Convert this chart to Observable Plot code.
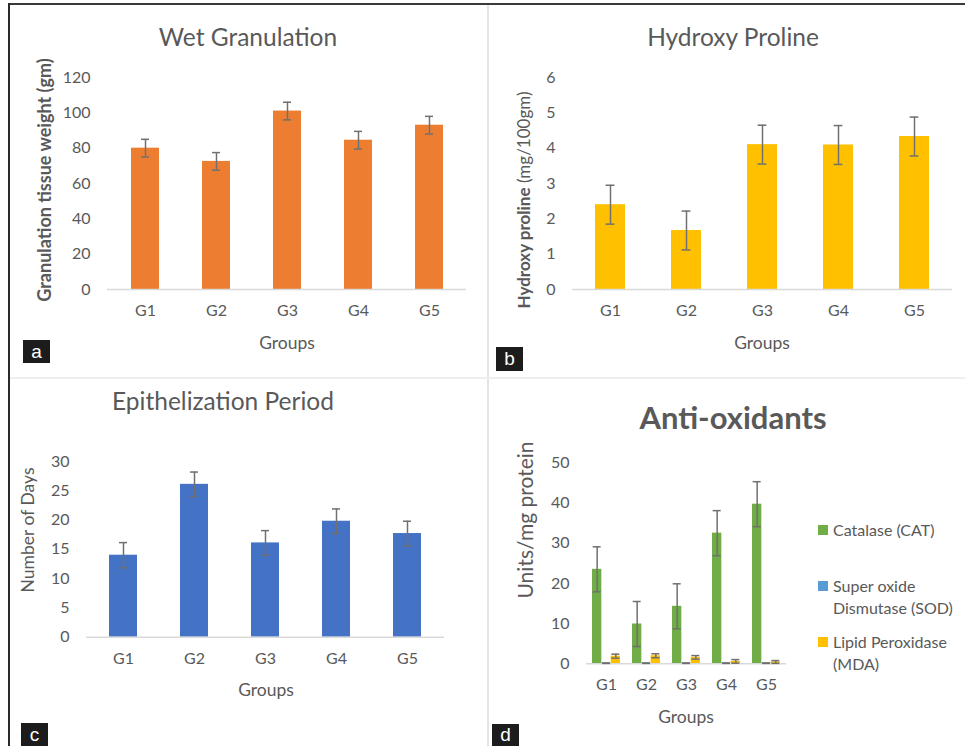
<!DOCTYPE html>
<html>
<head>
<meta charset="utf-8">
<script src="https://cdn.jsdelivr.net/npm/d3@7"></script>
<script src="https://cdn.jsdelivr.net/npm/@observablehq/plot@0.6"></script>
<style>
  html, body { margin: 0; padding: 0; background: #fff; }
  #page { position: relative; width: 965px; height: 746px; overflow: hidden; background: #fff; font-family: Lato, "Open Sans", sans-serif; color: #595959; }
  .abs { position: absolute; }
  .title { position: absolute; transform: translate(-50%, -50%); white-space: nowrap; font-size: 24.5px; color: #595959; }
  .ylab { position: absolute; transform: translate(-50%, -50%) rotate(-90deg); white-space: nowrap; color: #595959; }
  .xlab { position: absolute; transform: translate(-50%, -50%); white-space: nowrap; font-size: 17.5px; color: #595959; }
  .tag { position: absolute; background: #1c1c1c; color: #fff; font-family: "Liberation Sans", Arial, sans-serif; font-size: 19px; text-align: center; }
  .leg { position: absolute; font-size: 16px; line-height: 22px; color: #595959; }
  .sw { position: absolute; width: 10px; height: 10px; }
</style>
</head>
<body>
<div id="page"></div>
<script>
// ---------------- data ----------------
const groups = ["G1", "G2", "G3", "G4", "G5"];

const wetMean = [80, 72.5, 101, 84.5, 93];
const wetErr  = [5, 5, 5, 5, 5];
const wetTicks = [0, 20, 40, 60, 80, 100, 120];

const hypMean = [2.4, 1.67, 4.1, 4.09, 4.33];
const hypErr  = [0.55, 0.55, 0.55, 0.55, 0.55];
const hypTicks = [0, 1, 2, 3, 4, 5, 6];

const epiMean = [14, 26.1, 16.1, 19.8, 17.7];
const epiErr  = [2.15, 2.1, 2.1, 2.1, 2.1];
const epiTicks = [0, 5, 10, 15, 20, 25, 30];

const catMean = [23.5, 9.9, 14.3, 32.5, 39.7];
const catErr  = [5.6, 5.6, 5.6, 5.6, 5.6];
const sodMean = [0.15, 0.15, 0.15, 0.15, 0.15];
const sodErr  = [0.05, 0.05, 0.05, 0.05, 0.05];
const mdaMean = [1.9, 2.0, 1.6, 0.6, 0.45];
const mdaErr  = [0.5, 0.5, 0.45, 0.45, 0.35];
const aoTicks = [0, 10, 20, 30, 40, 50];

const seriesNames = ["Catalase (CAT)", "Super oxide Dismutase (SOD)", "Lipid Peroxidase (MDA)"];
const seriesColors = ["#70AD47", "#5B9BD5", "#FFC000"];

// ---------------- helpers ----------------
const page = document.getElementById("page");
function addDiv(cls, css, html) {
  const d = document.createElement("div");
  d.className = cls;
  Object.assign(d.style, css);
  d.innerHTML = html || "";
  page.appendChild(d);
  return d;
}
const baseStyle = { fontFamily: "Lato, 'Open Sans', sans-serif", fontSize: "16px", color: "#595959", background: "transparent", overflow: "visible" };
const fmt = d3.format("d");

function simplePanel({ left, top, width, height, mL, mR, mT, mB, means, errs, ticks, color, pad, capInset }) {
  const data = groups.map((g, i) => ({ g, v: means[i], e: errs[i] }));
  const svg = Plot.plot({
    width, height, marginLeft: mL, marginRight: mR, marginTop: mT, marginBottom: mB,
    style: baseStyle,
    x: { domain: groups, paddingInner: pad, paddingOuter: pad / 2, label: null, tickSize: 0, tickPadding: 15 },
    y: { domain: [ticks[0], ticks[ticks.length - 1]], ticks, tickFormat: fmt, label: null, tickSize: 0, tickPadding: 17 },
    marks: [
      Plot.barY(data, { x: "g", y: "v", fill: color }),
      Plot.ruleY([0], { stroke: "#d9d9d9", strokeWidth: 1.5 }),
      Plot.ruleX(data, { x: "g", y1: d => d.v - d.e, y2: d => d.v + d.e, stroke: "#707070", strokeWidth: 1.5 }),
      Plot.tickY(data, { x: "g", y: d => d.v - d.e, stroke: "#707070", strokeWidth: 1.5, insetLeft: capInset, insetRight: capInset }),
      Plot.tickY(data, { x: "g", y: d => d.v + d.e, stroke: "#707070", strokeWidth: 1.5, insetLeft: capInset, insetRight: capInset })
    ]
  });
  svg.style.position = "absolute";
  svg.style.left = left + "px";
  svg.style.top = top + "px";
  page.appendChild(svg);
}

// ---------------- frame ----------------
addDiv("abs", { left: "8px", top: "3px", width: "957px", height: "2px", background: "#3a3a3a" });
addDiv("abs", { left: "8px", top: "3px", width: "2px", height: "743px", background: "#2a2a2a" });
addDiv("abs", { left: "487px", top: "5px", width: "1.5px", height: "741px", background: "#e4e4e4" });
addDiv("abs", { left: "10px", top: "377px", width: "955px", height: "1.5px", background: "#eeeeee" });

// ---------------- panel a ----------------
addDiv("title", { left: "248px", top: "36px" }, "Wet Granulation");
simplePanel({ left: 10, top: 60, width: 475, height: 300, mL: 97, mR: 19, mT: 17, mB: 71,
  means: wetMean, errs: wetErr, ticks: wetTicks, color: "#ED7D31", pad: 0.61, capInset: 10 });
addDiv("ylab", { left: "44px", top: "180px", fontSize: "18px", fontWeight: "700" }, "Granulation tissue weight (gm)");
addDiv("xlab", { left: "287px", top: "342px" }, "Groups");
addDiv("tag", { left: "23px", top: "340px", width: "27px", height: "23px", lineHeight: "23px" }, "a");

// ---------------- panel b ----------------
addDiv("title", { left: "733px", top: "36px" }, "Hydroxy Proline");
simplePanel({ left: 490, top: 60, width: 470, height: 300, mL: 82, mR: 8, mT: 17, mB: 71,
  means: hypMean, errs: hypErr, ticks: hypTicks, color: "#FFC000", pad: 0.6, capInset: 10.6 });
addDiv("ylab", { left: "523px", top: "200px", fontSize: "17px" }, "<b>Hydroxy proline</b> (mg/100gm)");
addDiv("xlab", { left: "762px", top: "342px" }, "Groups");
addDiv("tag", { left: "496px", top: "347px", width: "27px", height: "24px", lineHeight: "24px" }, "b");

// ---------------- panel c ----------------
addDiv("title", { left: "223px", top: "400px" }, "Epithelization Period");
simplePanel({ left: 10, top: 445, width: 470, height: 285, mL: 76, mR: 36, mT: 16, mB: 93.3,
  means: epiMean, errs: epiErr, ticks: epiTicks, color: "#4472C4", pad: 0.605, capInset: 10 });
addDiv("ylab", { left: "27px", top: "530px", fontSize: "17.5px" }, "Number of Days");
addDiv("xlab", { left: "266px", top: "689px" }, "Groups");
addDiv("tag", { left: "21px", top: "723px", width: "27px", height: "23px", lineHeight: "23px" }, "c");

// ---------------- panel d ----------------
addDiv("title", { left: "733px", top: "417px", fontWeight: "700", fontSize: "31px" }, "Anti-oxidants");
{
  const band = 40, bar = 9.33, cap = 8, outer = 6;
  const series = [
    { means: catMean, errs: catErr, color: seriesColors[0], l: outer, dx: -bar },
    { means: sodMean, errs: sodErr, color: seriesColors[1], l: outer + bar, dx: 0 },
    { means: mdaMean, errs: mdaErr, color: seriesColors[2], l: outer + 2 * bar, dx: bar }
  ];
  const marks = [];
  series.forEach(s => {
    const data = groups.map((g, i) => ({ g, v: s.means[i], e: s.errs[i] }));
    const insL = s.l, insR = band - s.l - bar;
    const capL = s.l + bar / 2 - cap / 2, capR = band - capL - cap;
    marks.push(Plot.barY(data, { x: "g", y: "v", fill: s.color, insetLeft: insL, insetRight: insR }));
    s.data = data; s.capL = capL; s.capR = capR;
  });
  marks.push(Plot.ruleY([0], { stroke: "#d9d9d9", strokeWidth: 1.5 }));
  series.forEach(s => {
    marks.push(Plot.ruleX(s.data, { x: "g", dx: s.dx, y1: d => Math.max(0, d.v - d.e), y2: d => d.v + d.e, stroke: "#707070", strokeWidth: 1.5 }));
    marks.push(Plot.tickY(s.data, { x: "g", y: d => Math.max(0, d.v - d.e), stroke: "#707070", strokeWidth: 1.5, insetLeft: s.capL, insetRight: s.capR }));
    marks.push(Plot.tickY(s.data, { x: "g", y: d => d.v + d.e, stroke: "#707070", strokeWidth: 1.5, insetLeft: s.capL, insetRight: s.capR }));
  });
  const svg = Plot.plot({
    width: 300, height: 285, marginLeft: 96, marginRight: 4, marginTop: 17.3, marginBottom: 66.7,
    style: baseStyle,
    x: { domain: groups, padding: 0, label: null, tickSize: 0, tickPadding: 15 },
    y: { domain: [0, 50], ticks: aoTicks, tickFormat: fmt, label: null, tickSize: 0, tickPadding: 17 },
    marks
  });
  svg.style.position = "absolute";
  svg.style.left = "490px";
  svg.style.top = "445px";
  page.appendChild(svg);
}
addDiv("ylab", { left: "524px", top: "520px", fontSize: "21px" }, "Units/mg protein");
addDiv("xlab", { left: "686px", top: "716px" }, "Groups");
addDiv("tag", { left: "492px", top: "724px", width: "27px", height: "22px", lineHeight: "22px" }, "d");

// legend
const legLines = [["Catalase (CAT)"], ["Super oxide", "Dismutase (SOD)"], ["Lipid Peroxidase", "(MDA)"]];
const legTops = [530, 586, 642];
legLines.forEach((lines, i) => {
  addDiv("sw", { left: "818px", top: (legTops[i] - 5) + "px", background: seriesColors[i] });
  addDiv("leg", { left: "833px", top: (legTops[i] - 11) + "px" }, lines.join("<br>"));
});
</script>
</body>
</html>
